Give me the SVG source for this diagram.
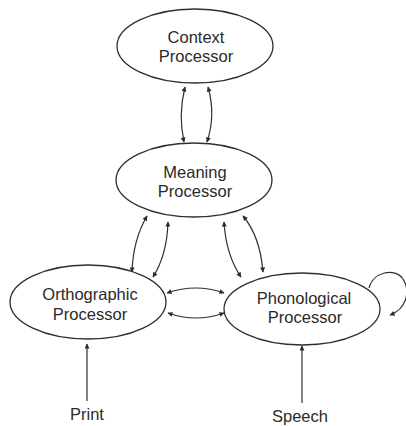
<svg xmlns="http://www.w3.org/2000/svg" width="406" height="426" viewBox="0 0 406 426">
<defs>
<marker id="ah" viewBox="0 0 10 10" refX="9" refY="5" markerWidth="7" markerHeight="5" markerUnits="userSpaceOnUse" orient="auto-start-reverse">
<path d="M0,0 L10,5 L0,10 Z" fill="#2a2a2a"/>
</marker>
</defs>
<style>
.node ellipse{fill:#fff;stroke:#2f2f2f;stroke-width:1.3}
.node text,.lbl{font-family:"Liberation Sans",Arial,sans-serif;font-size:16.5px;fill:#2a2a2a;text-anchor:middle}
.c path{fill:none;stroke:#2f2f2f;stroke-width:1.2}
.bi{marker-start:url(#ah);marker-end:url(#ah)}
.uni{marker-end:url(#ah)}
</style>
<rect width="406" height="426" fill="#fff"/>
<g id="context" class="node">
<ellipse cx="195" cy="46" rx="78" ry="37"/>
<text x="196" y="43">Context</text>
<text x="196" y="62">Processor</text>
</g>
<g id="meaning" class="node">
<ellipse cx="194" cy="180" rx="78" ry="37"/>
<text x="195" y="178">Meaning</text>
<text x="195" y="197">Processor</text>
</g>
<g id="orthographic" class="node">
<ellipse cx="88" cy="302" rx="78" ry="37"/>
<text x="90" y="300">Orthographic</text>
<text x="90" y="320">Processor</text>
</g>
<g id="phonological" class="node">
<ellipse cx="302" cy="309" rx="78" ry="36"/>
<text x="304" y="304">Phonological</text>
<text x="305" y="323">Processor</text>
</g>
<g id="print">
<text class="lbl" x="87" y="420">Print</text>
</g>
<g id="speech">
<text class="lbl" x="300" y="422">Speech</text>
</g>
<g id="connectors" class="c">
<path class="bi" d="M185,87 Q178,115 184,142"/>
<path class="bi" d="M208,87 Q216,115 207,142"/>
<path class="bi" d="M147,216 Q133,240 132,272"/>
<path class="bi" d="M168,222 Q167,255 153,277"/>
<path class="bi" d="M224,222 Q226,255 241,277"/>
<path class="bi" d="M243,216 Q260,236 263,272"/>
<path class="bi" d="M167,293 Q196,283 224,293"/>
<path class="bi" d="M168,313 Q196,323 224,313"/>
<path class="uni" d="M369,288 C373,272 395,267 403,279 C411,292 406,309 390,315"/>
<path class="uni" d="M87,401 L87,344"/>
<path class="uni" d="M302,403 L302,346"/>
</g>
</svg>
